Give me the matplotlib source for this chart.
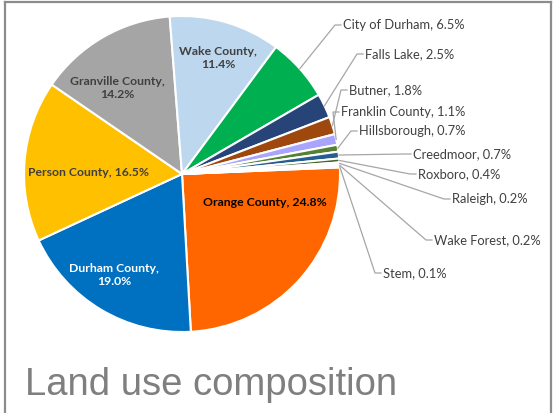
import matplotlib
matplotlib.use("Agg")
import matplotlib.pyplot as plt
from matplotlib.lines import Line2D
import numpy as np

# land use shares (%), clockwise from Orange County
areas = ["Orange County", "Durham County", "Person County", "Granville County",
         "Wake County", "City of Durham", "Falls Lake", "Butner", "Franklin County",
         "Hillsborough", "Creedmoor", "Roxboro", "Raleigh", "Wake Forest", "Stem"]
shares = [24.8, 19.0, 16.5, 14.2, 11.4, 6.5, 2.5, 1.8, 1.1, 0.7, 0.7, 0.4, 0.2, 0.2, 0.1]
colors = ["#FF6600", "#0070C0", "#FFC000", "#A5A5A5", "#BDD7EE", "#00B050",
          "#264478", "#9E480E", "#A9A5FF", "#548235", "#255E91", "#43682B",
          "#698ED0", "#F1975A", "#B7B7B7"]

# labels drawn inside the big wedges: (pixel x, pixel y, text colour, two lines?)
inside = {
    "Wake County": (218, 58, "#404040", True),
    "Granville County": (117, 88, "#404040", True),
    "Person County": (88, 172, "#404040", False),
    "Durham County": (114, 275, "white", True),
    "Orange County": (265, 202, "black", False),
}
# labels placed outside with leader lines: left edge / middle in pixels
outside = {
    "City of Durham": (343, 25),
    "Falls Lake": (365, 54),
    "Butner": (349, 90),
    "Franklin County": (341, 112),
    "Hillsborough": (359, 131),
    "Creedmoor": (413, 154),
    "Roxboro": (418, 174),
    "Raleigh": (452, 199),
    "Wake Forest": (434, 240),
    "Stem": (383, 273),
}

W, H = 555, 413
CX, CY, R = 182, 174, 158

fig = plt.figure(figsize=(W / 100, H / 100), dpi=100)
ax = fig.add_axes([(CX - R) / W, (H - CY - R) / H, 2 * R / W, 2 * R / H])

wedges, _ = ax.pie(shares, colors=colors, startangle=2.4, counterclock=False,
                   radius=1.0, center=(0, 0),
                   wedgeprops=dict(edgecolor="white", linewidth=1.5))
ax.set_xlim(-1, 1)
ax.set_ylim(-1, 1)
ax.set_aspect("equal")
ax.axis("off")


def to_data(px, py):
    return (px - CX) / R, (CY - py) / R


for name, val, w in zip(areas, shares, wedges):
    if name in inside:
        px, py, tc, wrap = inside[name]
        sep = ",\n" if wrap else ", "
        x, y = to_data(px, py)
        ax.text(x, y, f"{name}{sep}{val:.1f}%", ha="center", va="center",
                fontsize=8.8, fontweight="bold", color=tc, family="Lato",
                linespacing=1.25)
    else:
        tx, ty = outside[name]
        mid = np.deg2rad((w.theta1 + w.theta2) / 2)
        x0, y0 = np.cos(mid), np.sin(mid)
        x1, y1 = to_data(tx - 8, ty)
        x2, y2 = to_data(tx - 2, ty)
        ax.add_line(Line2D([x0, x1, x2], [y0, y1, y2], color="#A6A6A6",
                           lw=0.9, clip_on=False))
        lx, ly = to_data(tx, ty)
        ax.text(lx, ly, f"{name}, {val:.1f}%", ha="left", va="center",
                fontsize=9.3, color="#404040", family="Lato", clip_on=False)

# chart title in the lower left
fig.text(25 / W, 1 - 395 / H, "Land use composition", fontsize=27.5,
         color="#7F7F7F", family="Liberation Sans", ha="left", va="baseline")

# frame on the left, top and right
frame = dict(color="#8C8C8C", lw=1.6, transform=fig.transFigure)
fig.add_artist(Line2D([4.5 / W, 4.5 / W], [0, 1 - 1.5 / H], **frame))
fig.add_artist(Line2D([4.5 / W, 551 / W], [1 - 1.5 / H, 1 - 1.5 / H], **frame))
fig.add_artist(Line2D([551 / W, 551 / W], [0, 1 - 1.5 / H], **frame))

fig.savefig("out.png", dpi=100)
